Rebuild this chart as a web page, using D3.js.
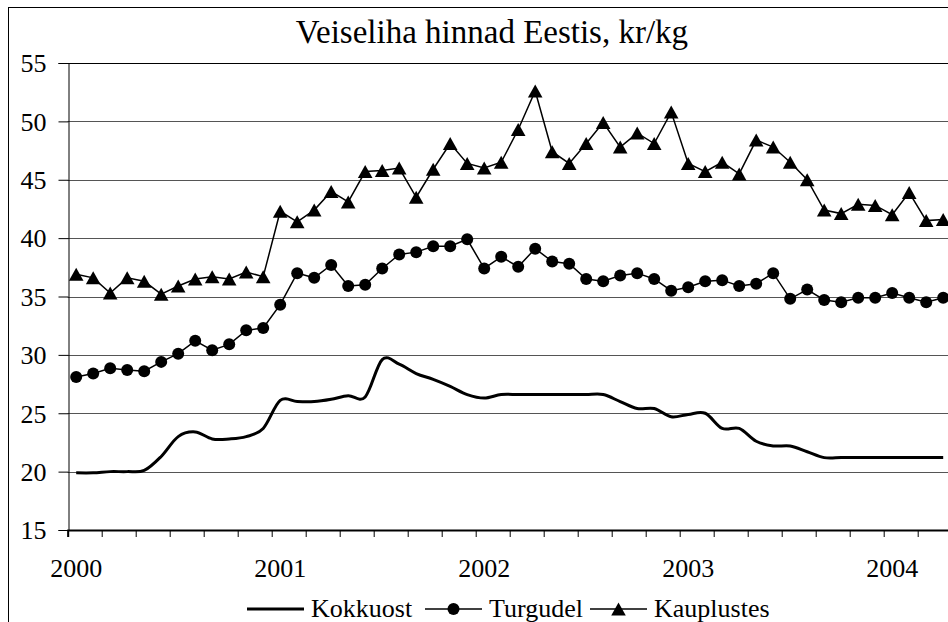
<!DOCTYPE html>
<html>
<head>
<meta charset="utf-8">
<script src="https://cdn.jsdelivr.net/npm/d3@7"></script>
<style>
svg text { font-family: 'Liberation Serif' !important; }
</style>
</head>
<body style="margin:0;background:#fff">
<svg id="prices" width="948" height="622" style="display:block"></svg>
<script>
// monthly prices, Jan 2000 .. Apr 2004
var yearLabels = ["2000", "2001", "2002", "2003", "2004"];
var seriesNames = ["Kokkuost", "Turgudel", "Kauplustes"];
var yTicks = [15, 20, 25, 30, 35, 40, 45, 50, 55];

var kokkuost = [19.9, 19.9, 20.0, 20.0, 20.1, 21.3, 23.0, 23.4, 22.8, 22.8, 23.0, 23.7,
    26.1, 26.0, 26.0, 26.2, 26.5, 26.4, 29.6, 29.2, 28.4, 27.9, 27.3, 26.6,
    26.3, 26.6, 26.6, 26.6, 26.6, 26.6, 26.6, 26.6, 26.0, 25.4, 25.4, 24.7,
    24.9, 25.0, 23.7, 23.7, 22.6, 22.2, 22.2, 21.7, 21.2, 21.2, 21.2, 21.2,
    21.2, 21.2, 21.2, 21.2];
var turgudel = [28.1, 28.4, 28.85, 28.7, 28.6, 29.4, 30.1, 31.2, 30.4, 30.9, 32.1, 32.3,
    34.3, 37.0, 36.6, 37.7, 35.9, 36.0, 37.4, 38.6, 38.8, 39.3, 39.3, 39.9,
    37.4, 38.4, 37.55, 39.1, 38.0, 37.8, 36.5, 36.3, 36.8, 37.0, 36.5, 35.5,
    35.8, 36.3, 36.4, 35.9, 36.1, 37.0, 34.8, 35.6, 34.7, 34.5, 34.9, 34.9,
    35.3, 34.9, 34.5, 34.9];
var kauplustes = [36.9, 36.6, 35.3, 36.6, 36.3, 35.2, 35.9, 36.5, 36.7, 36.5, 37.1, 36.7,
    42.3, 41.4, 42.4, 44.0, 43.1, 45.7, 45.8, 46.0, 43.5, 45.9, 48.1, 46.4,
    46.0, 46.5, 49.3, 52.6, 47.4, 46.4, 48.1, 49.9, 47.8, 49.0, 48.1, 50.8,
    46.4, 45.7, 46.5, 45.5, 48.4, 47.8, 46.5, 45.0, 42.4, 42.1, 42.9, 42.8,
    42.0, 43.9, 41.5, 41.6];

var FONT = "'Liberation Serif'";
var svg = d3.select("#prices");
var plot = {left: 67.7, top: 63, bottom: 530, step: 17};
var n = kokkuost.length;

var x = d3.scaleLinear().domain([0, n]).range([plot.left, plot.left + n * plot.step]);
var y = d3.scaleLinear().domain([15, 55]).range([plot.bottom, plot.top]);
function cx(i) { return x(i + 0.5); }

// chart frame (cropped on right and bottom)
svg.append("rect")
    .attr("x", 8.5).attr("y", 7.5)
    .attr("width", 1000).attr("height", 700)
    .attr("fill", "none").attr("stroke", "#000").attr("stroke-width", 1);

svg.append("text")
    .attr("x", 492).attr("y", 43)
    .attr("text-anchor", "middle")
    .attr("font-family", "Liberation Serif")
    .style("font-family", FONT, "important")
    .style("font-size", "33px")
    .text("Veiseliha hinnad Eestis, kr/kg");

// gridlines
svg.append("g").selectAll("line")
    .data(yTicks.filter(function (d) { return d > 15; }))
    .enter().append("line")
    .attr("x1", plot.left).attr("x2", 960)
    .attr("y1", function (d) { return Math.round(y(d)) + 0.5; })
    .attr("y2", function (d) { return Math.round(y(d)) + 0.5; })
    .attr("stroke", function (d) { return d == 55 ? "#000" : "#555"; })
    .attr("stroke-width", 1);

// y axis
var yAxis = svg.append("g")
    .attr("transform", "translate(" + (Math.round(plot.left) + 0.5) + ",0)")
    .call(d3.axisLeft(y).tickValues(yTicks).tickSize(10).tickPadding(12));
yAxis.attr("font-family", "Liberation Serif").attr("font-size", 26);
yAxis.select(".domain").attr("stroke", "#000");
yAxis.selectAll(".tick line").attr("stroke", "#000");
yAxis.selectAll(".tick text")
    .style("font-family", FONT, "important")
    .style("font-size", "26px")
    .attr("fill", "#000")
    .attr("dy", "0.34em");

// x axis: ticks every 2 months, labels at January
var xAxis = svg.append("g")
    .attr("transform", "translate(0," + plot.bottom + ")")
    .call(d3.axisBottom(x).tickValues(d3.range(0, n + 1, 2)).tickSize(7).tickFormat(""));
xAxis.select(".domain").attr("stroke", "#000").attr("stroke-width", 2);
xAxis.selectAll(".tick line").attr("stroke", "#000");

svg.append("g").selectAll("text")
    .data(yearLabels)
    .enter().append("text")
    .attr("x", function (d, i) { return cx(i * 12); })
    .attr("y", 577)
    .attr("text-anchor", "middle")
    .attr("font-family", "Liberation Serif")
    .style("font-family", FONT, "important")
    .style("font-size", "26px")
    .text(function (d) { return d; });

// series
var smooth = d3.line()
    .x(function (d, i) { return cx(i); })
    .y(function (d) { return y(d); })
    .curve(d3.curveCardinal.tension(0));
var straight = d3.line()
    .x(function (d, i) { return cx(i); })
    .y(function (d) { return y(d); });

svg.append("path")
    .attr("d", smooth(kokkuost))
    .attr("fill", "none").attr("stroke", "#000").attr("stroke-width", 3);

svg.append("path")
    .attr("d", straight(turgudel))
    .attr("fill", "none").attr("stroke", "#000").attr("stroke-width", 1.5);
svg.append("g").selectAll("circle")
    .data(turgudel)
    .enter().append("circle")
    .attr("cx", function (d, i) { return cx(i); })
    .attr("cy", function (d) { return y(d); })
    .attr("r", 6)
    .attr("fill", "#000");

var tri = "M0,-6.5L7.3,6.5L-7.3,6.5Z";
svg.append("path")
    .attr("d", straight(kauplustes))
    .attr("fill", "none").attr("stroke", "#000").attr("stroke-width", 1.5);
svg.append("g").selectAll("path")
    .data(kauplustes)
    .enter().append("path")
    .attr("d", tri)
    .attr("transform", function (d, i) { return "translate(" + cx(i) + "," + y(d) + ")"; })
    .attr("fill", "#000");

// legend (widths measured in Liberation Serif 26px)
var legendWidths = [101, 88, 111];
var lx = 247, ly = 609;
seriesNames.forEach(function (name, k) {
    var g = svg.append("g");
    g.append("line")
        .attr("x1", lx).attr("x2", lx + 57)
        .attr("y1", ly).attr("y2", ly)
        .attr("stroke", "#000").attr("stroke-width", k == 0 ? 3 : 1.5);
    if (k == 1) {
        g.append("circle").attr("cx", lx + 28.5).attr("cy", ly).attr("r", 6).attr("fill", "#000");
    } else if (k == 2) {
        g.append("path").attr("d", tri)
            .attr("transform", "translate(" + (lx + 28.5) + "," + ly + ")")
            .attr("fill", "#000");
    }
    g.append("text")
        .attr("x", lx + 64).attr("y", ly + 8)
        .attr("font-family", "Liberation Serif")
        .style("font-family", FONT, "important")
        .style("font-size", "26px")
        .text(name);
    lx += 64 + legendWidths[k] + 13;
});
</script>
</body>
</html>
